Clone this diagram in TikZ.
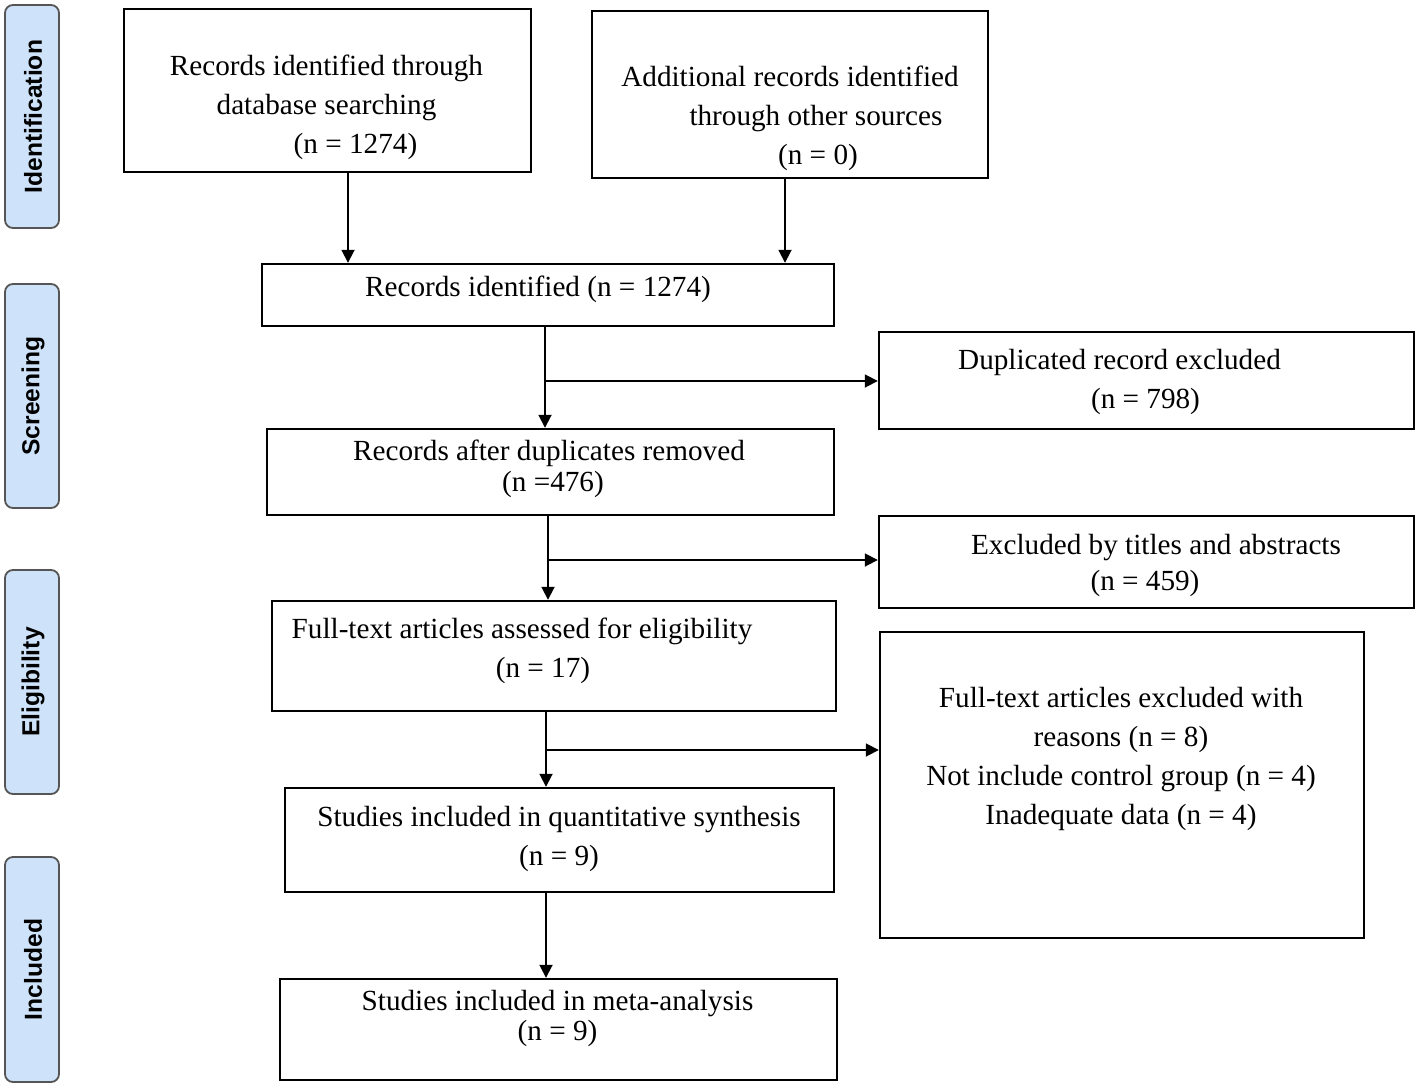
\documentclass[tikz,border=0pt]{standalone}
\usepackage{fontspec}
\setmainfont{Liberation Serif}
\setsansfont{Liberation Sans}
\usetikzlibrary{arrows.meta}
\definecolor{stagefill}{RGB}{206,227,250}
\definecolor{stageline}{RGB}{85,85,85}

\begin{document}
\begin{tikzpicture}[x=0.5pt, y=-0.5pt,
	box/.style={rectangle, draw, line width=1.2pt, inner sep=0pt},
	txt/.style={align=center, inner sep=0pt, font=\fontsize{14.6}{19.5}\selectfont},
	stage/.style={rectangle, rounded corners=4pt, draw=stageline, fill=stagefill, line width=0.9pt,
		minimum width=27pt, inner sep=0pt},
	stagetxt/.style={rotate=90, inner sep=0pt, font=\sffamily\bfseries\fontsize{12.3}{14}\selectfont},
	arr/.style={line width=0.9pt, -{Triangle[length=6.5pt,width=6.5pt]}}]
	\useasboundingbox (0,0) rectangle (1418,1087);
	% Stage labels on the left
	\node [stage, minimum height=111.5pt] (sid) at (32,116.5) {};
	\node [stagetxt] (sid-txt) at (33,116.5) {Identification};
	\node [stage, minimum height=112pt] (ssc) at (32,396) {};
	\node [stagetxt] (ssc-txt) at (33,396) {Screening};
	\node [stage, minimum height=112pt] (sel) at (32,682) {};
	\node [stagetxt] (sel-txt) at (33,682) {Eligibility};
	\node [stage, minimum height=112.5pt] (sin) at (32,969.5) {};
	\node [stagetxt] (sin-txt) at (33,969.5) {Included};

	% Place boxes
	\node [box, minimum width=203.5pt, minimum height=81.5pt] (db) at (327.5,90.5) {};
	\node [box, minimum width=198pt, minimum height=83.5pt] (other) at (790,94.5) {};
	\node [box, minimum width=286pt, minimum height=31pt] (ident) at (548,295) {};
	\node [box, minimum width=267.5pt, minimum height=48.5pt] (dup) at (1146.5,380.5) {};
	\node [box, minimum width=283.5pt, minimum height=43pt] (afterdup) at (550.5,472) {};
	\node [box, minimum width=267.5pt, minimum height=46pt] (excl) at (1146.5,562) {};
	\node [box, minimum width=282pt, minimum height=55pt] (fulltext) at (554,656) {};
	\node [box, minimum width=242pt, minimum height=153pt] (ftexcl) at (1122,785) {};
	\node [box, minimum width=274.5pt, minimum height=52pt] (quant) at (559.5,840) {};
	\node [box, minimum width=278.5pt, minimum height=50.5pt] (meta) at (558.5,1029.5) {};

	% Box texts
	\node [txt] (db-txt) at (326.5,107) {Records identified through\\database searching\\\hspace*{29pt}(n = 1274)};
	\node [txt] (other-txt) at (790,118) {Additional records identified\\\hspace*{26pt}through other sources\\\hspace*{28pt}(n = 0)};
	\node [txt] (ident-txt) at (538,289) {Records identified (n = 1274)};
	\node [txt] (dup-txt) at (1119.5,382) {Duplicated record excluded\\\hspace*{26pt}(n = 798)};
	\node [txt] (afterdup-txt) at (549,468.5) {Records after duplicates removed\\[-4pt]\hspace*{4pt}(n =476)};
	\node [txt] (excl-txt) at (1156,565) {Excluded by titles and abstracts\\[-1.5pt](n = 459)\hspace*{11pt}};
	\node [txt] (fulltext-txt) at (522,651) {Full-text articles assessed for eligibility\\\hspace*{21pt}(n = 17)};
	\node [txt] (ftexcl-txt) at (1121,759) {Full-text articles excluded with\\reasons (n = 8)\\Not include control group (n = 4)\\Inadequate data (n = 4)};
	\node [txt] (quant-txt) at (559,838.5) {Studies included in quantitative synthesis\\(n = 9)};
	\node [txt] (meta-txt) at (557.5,1018) {Studies included in meta-analysis\\[-4.5pt](n = 9)};

	% Connectors
	\coordinate (a1) at (348,0);
	\coordinate (a2) at (785,0);
	\coordinate (b1) at (545,381);
	\coordinate (b2) at (548,560);
	\coordinate (b3) at (546,750);
	\coordinate (b4) at (546,0);
	\draw [arr] (db.south -| a1) -- (ident.north -| a1);
	\draw [arr] (other.south -| a2) -- (ident.north -| a2);
	\draw [arr] (ident.south -| b1) -- (afterdup.north -| b1);
	\draw [arr] (b1) -- (b1 -| dup.west);
	\draw [arr] (afterdup.south -| b2) -- (fulltext.north -| b2);
	\draw [arr] (b2) -- (b2 -| excl.west);
	\draw [arr] (fulltext.south -| b3) -- (quant.north -| b3);
	\draw [arr] (b3) -- (b3 -| ftexcl.west);
	\draw [arr] (quant.south -| b4) -- (meta.north -| b4);
\end{tikzpicture}
\end{document}
